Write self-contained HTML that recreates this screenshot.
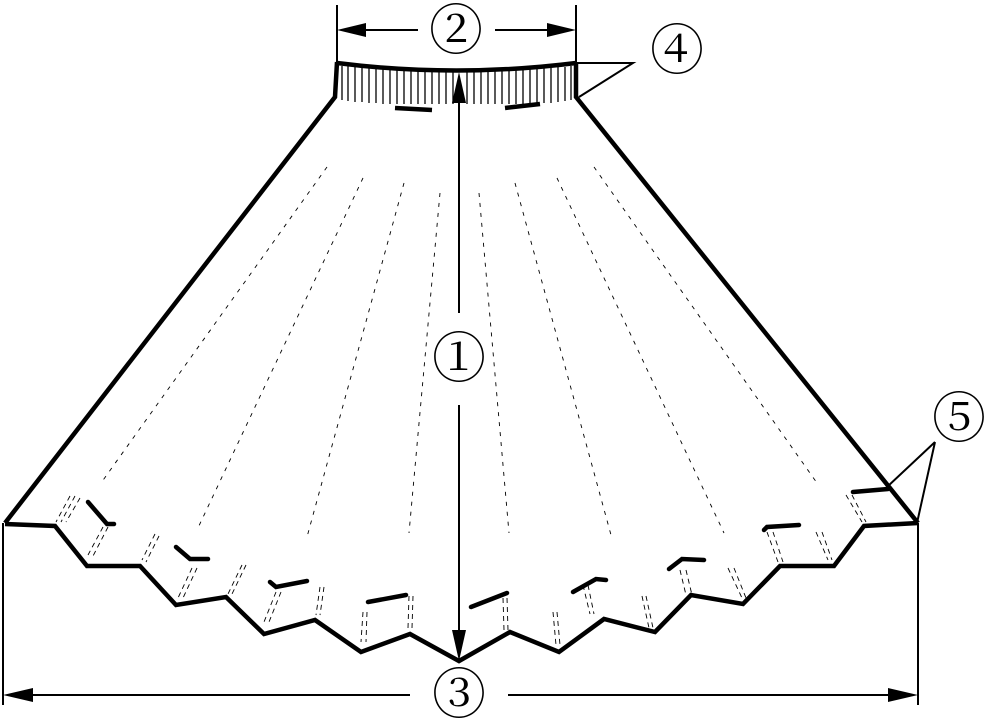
<!DOCTYPE html>
<html><head><meta charset="utf-8"><style>html,body{margin:0;padding:0;background:#fff}svg{display:block}</style></head><body>
<svg width="990" height="723" viewBox="0 0 990 723" xmlns="http://www.w3.org/2000/svg">
<g stroke="#000" fill="none" stroke-linejoin="miter">
<g stroke-width="1.3">
<path d="M342 66V100M348 66V101M355 67V102M362 67V102M369 68V103M376 68V103M383 69V104M390 69V104M397 69V104M404 70V104M411 70V104M418 70V104M425 70V104M432 70V104M439 70V104M446 70V104M453 70V104M467 70V104M474 70V104M481 70V104M488 70V104M495 70V104M502 70V104M509 70V104M516 70V104M523 70V104M530 69V104M537 69V104M544 68V103M551 68V103M558 67V102M565 67V101M571 66V100"/>
</g>
<path d="M337 63 Q456 78 576 63" stroke-width="4.5"/>
<path d="M337 62 L335 97 L5 523" stroke-width="4.5"/>
<path d="M576 62 L576 97 L918 523" stroke-width="4.5"/>
<path d="M5 524 L55 526 L87 566 L140 566 L176 605 L226 597 L264 634 L315 620 L361 652 L410 634 L459 661 L510 632 L559 652 L604 619 L655 632 L691 595 L743 604 L780 566 L834 566 L864 526 L918 523" stroke-width="4.5"/>
<path d="M395 108L432 110M505 108L540 104" stroke-width="4.5"/>
<g stroke-width="4.5" stroke-linecap="round">
<path d="M88 502L107 524L114 524"/>
<path d="M176 547L190 559L208 559"/>
<path d="M270 582L276 587L307 581"/>
<path d="M368 602L406 595"/>
<path d="M471 607L507 593"/>
<path d="M573 592L596 579L606 580"/>
<path d="M669 569L682 559L704 560"/>
<path d="M764 530L767 527L799 525"/>
<path d="M853 492L888 489"/>
</g>
<g stroke-width="0.9" stroke-dasharray="4,6">
<path d="M327 167L101 483"/>
<path d="M363 178L197 530"/>
<path d="M404 183L307 537"/>
<path d="M440 193L409 533"/>
<path d="M479 193L509 533"/>
<path d="M515 183L611 535"/>
<path d="M557 178L724 533"/>
<path d="M594 167L817 483"/>
</g>
<g stroke-width="0.9" stroke-dasharray="5,4">
<path d="M70 496L56 522M75 496L61 522M80 498L66 522"/>
<path d="M103 527L88 555M108 527L93 556"/>
<path d="M155 534L142 560M159 536L146 562"/>
<path d="M192 568L178 598M197 568L183 598"/>
<path d="M242 565L228 594M246 565L232 594"/>
<path d="M276 592L264 622M281 592L269 622"/>
<path d="M320 587L316 615M324 587L320 615"/>
<path d="M363 612L361 642M367 612L366 642"/>
<path d="M409 596L408 628M413 596L412 628"/>
<path d="M503 598L504 630M507 598L508 630"/>
<path d="M553 612L556 645M557 612L560 645"/>
<path d="M583 585L590 614M588 585L594 614"/>
<path d="M642 596L649 628M646 596L653 628"/>
<path d="M680 570L686 595M686 570L692 595"/>
<path d="M728 568L742 598M734 568L746 598"/>
<path d="M767 532L778 562M773 532L783 562"/>
<path d="M816 532L828 560M822 532L832 560"/>
<path d="M846 495L862 522M852 495L866 522"/>
</g>
<g stroke-width="2">
<path d="M337 5V63M576 5V63"/>
<path d="M345 30H418M495 30H568"/>
<path d="M577 63H633L579 97"/>
<path d="M459 88V313M459 405V645"/>
<path d="M3 523V705M918 523V705"/>
<path d="M10 695H410M508 695H910"/>
<path d="M935 442L886 488M935 442L917 523"/>
</g>
</g>
<g fill="#000">
<path d="M337 30L366 23L366 37Z"/>
<path d="M576 30L547 23L547 37Z"/>
<path d="M459 72L452 103L466 103Z"/>
<path d="M459 661L452 630L466 630Z"/>
<path d="M3 695L33 688L33 702Z"/>
<path d="M918 695L888 688L888 702Z"/>
</g>
<g font-family="'Liberation Serif','Noto Serif CJK SC',serif" font-size="54" text-anchor="middle" fill="#000">
<text x="456" y="49">②</text>
<text x="677" y="69">④</text>
<text x="459" y="377">①</text>
<text x="459" y="713">③</text>
<text x="959" y="437">⑤</text>
</g>
</svg>
</body></html>
